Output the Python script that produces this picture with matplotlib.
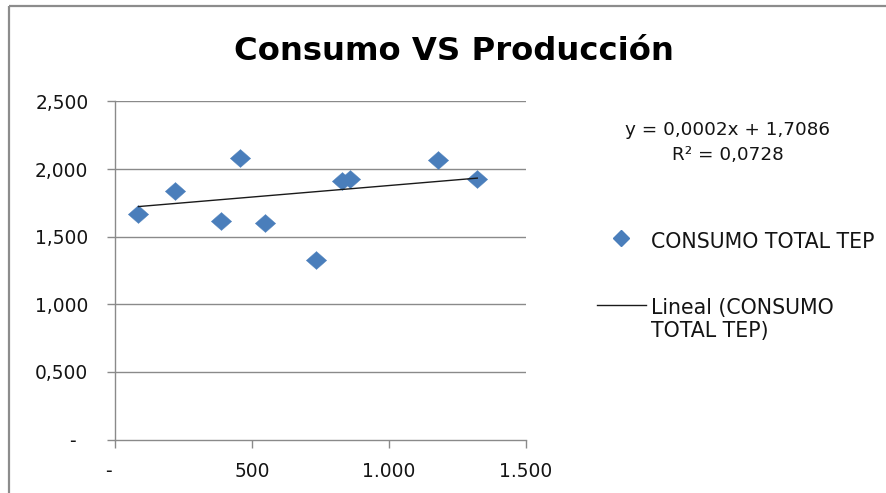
import matplotlib
matplotlib.use("Agg")
import matplotlib.pyplot as plt
from matplotlib.path import Path
from matplotlib.ticker import FixedLocator, FixedFormatter
import numpy as np

# Producción (x) vs consumo total en TEP (y)
produccion = [84, 219, 387, 454, 546, 732, 828, 856, 1179, 1322]
consumo = [1.667, 1.839, 1.619, 2.079, 1.600, 1.326, 1.913, 1.928, 2.064, 1.926]

# Linear trend coefficients
pendiente = 0.00017
intercepto = 1.7086
r2 = 0.0728

y_ticks = [0, 0.5, 1.0, 1.5, 2.0, 2.5]
y_labels = ["-  ", "0,500", "1,000", "1,500", "2,000", "2,500"]
x_ticks = [0, 500, 1000, 1500]
x_labels = ["-  ", "500", "1.000", "1.500"]

FONT = "DejaVu Sans"
TXT = "#141414"
BLUE = "#4a7ebb"
W, H = 887, 493
fig = plt.figure(figsize=(W / 100, H / 100), dpi=100)
fig.patch.set_facecolor("white")

def fx(px):
    return px / W

def fy(py):
    return 1 - py / H

# chart border: top and left edges
border = "#8c8c8c"
fig.lines.append(plt.Line2D([fx(9), 1.0], [fy(6), fy(6)], color=border,
                            linewidth=1.6, transform=fig.transFigure,
                            solid_capstyle="butt"))
fig.lines.append(plt.Line2D([fx(9), fx(9)], [fy(6), 0.0], color=border,
                            linewidth=1.6, transform=fig.transFigure,
                            solid_capstyle="butt"))

left, right, top, bottom = 115.5, 526, 101.5, 439.5
ax = fig.add_axes([fx(left), fy(bottom), (right - left) / W, (bottom - top) / H])
ax.set_xlim(0, 1500)
ax.set_ylim(0, 2.5)

grid_c = "#8a8a8a"
for s in ["top", "right"]:
    ax.spines[s].set_visible(False)
for s in ["left", "bottom"]:
    ax.spines[s].set_color(grid_c)
    ax.spines[s].set_linewidth(1.0)

ax.yaxis.set_major_locator(FixedLocator(y_ticks))
ax.yaxis.set_major_formatter(FixedFormatter(y_labels))
ax.xaxis.set_major_locator(FixedLocator(x_ticks))
ax.xaxis.set_major_formatter(FixedFormatter(x_labels))
ax.tick_params(axis="both", direction="out", length=6, width=1.0, color=grid_c,
               labelsize=13.4, labelcolor=TXT)
ax.tick_params(axis="y", pad=13.5)
ax.tick_params(axis="x", pad=10.5)
for lab in ax.get_xticklabels() + ax.get_yticklabels():
    lab.set_fontfamily(FONT)

for yv in y_ticks[1:]:
    ax.axhline(yv, color=grid_c, linewidth=1.0, zorder=1)

# slightly wide diamond marker
diamante = Path([(-1, 0), (0, 0.88), (1, 0), (0, -0.88), (-1, 0)],
                [Path.MOVETO, Path.LINETO, Path.LINETO, Path.LINETO, Path.CLOSEPOLY])

ax.scatter(produccion, consumo, marker=diamante, s=215, color=BLUE,
           edgecolors=BLUE, linewidths=0.3, zorder=3, clip_on=False)

xt = np.array([min(produccion), max(produccion)])
ax.plot(xt, pendiente * xt + intercepto, color="#1a1a1a", linewidth=1.0, zorder=4)

fig.text(fx(453.5), fy(60), "Consumo VS Producción", ha="center", va="baseline",
         fontsize=23.2, fontweight="bold", family=FONT, color="black")

eq = "y = {:.4f}x + {:.4f}".format(pendiente, intercepto).replace(".", ",")
fig.text(fx(728), fy(135), eq, ha="center", va="baseline", fontsize=13.2,
         family=FONT, color=TXT)
fig.text(fx(728), fy(160), "R² = {:.4f}".format(r2).replace(".", ","),
         ha="center", va="baseline", fontsize=13.2, family=FONT, color=TXT)

# legend
fig.lines.append(plt.Line2D([fx(620.5)], [fy(238)], marker="D", markersize=8.5,
                            color=BLUE, linestyle="none",
                            transform=fig.transFigure))
fig.text(fx(651), fy(248.5), "CONSUMO TOTAL TEP", ha="left", va="baseline",
         fontsize=14.8, family=FONT, color=TXT)
fig.lines.append(plt.Line2D([fx(597), fx(646)], [fy(305), fy(305)],
                            color="#1a1a1a", linewidth=1.0,
                            transform=fig.transFigure))
fig.text(fx(651), fy(314), "Lineal (CONSUMO", ha="left", va="baseline",
         fontsize=14.8, family=FONT, color=TXT)
fig.text(fx(651), fy(337), "TOTAL TEP)", ha="left", va="baseline",
         fontsize=14.8, family=FONT, color=TXT)

fig.savefig("out.png", dpi=100)
